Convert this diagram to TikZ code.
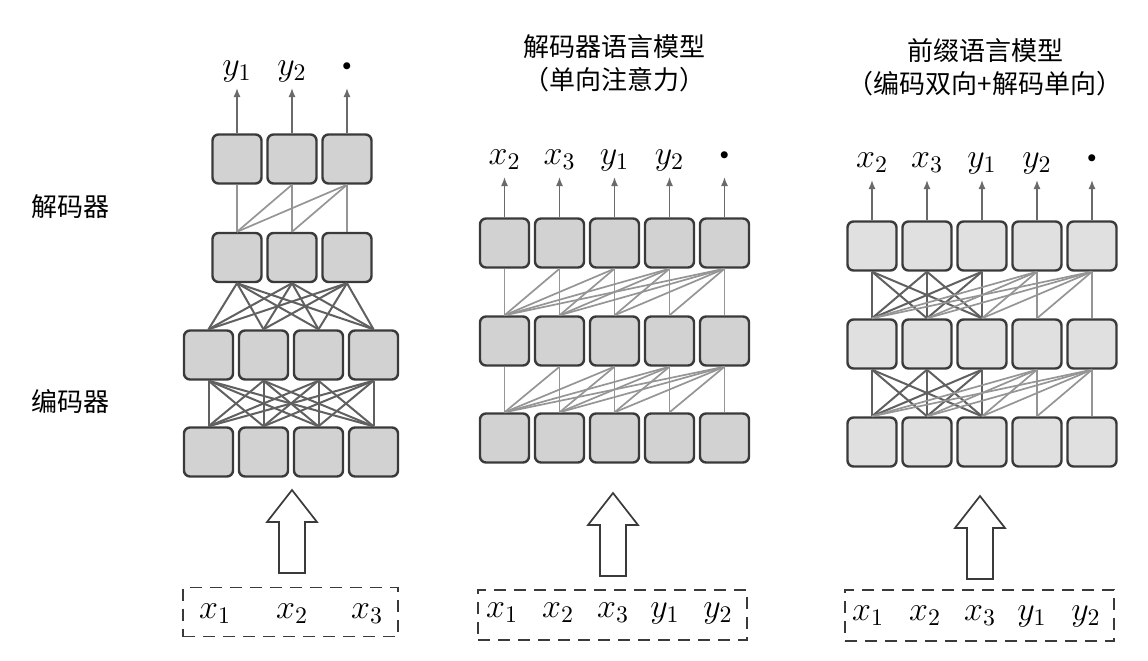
\documentclass[tikz,border=0pt]{standalone}
\usepackage{fix-cm}
\usepackage{fontspec}
\newfontfamily\cjk{Noto Sans CJK SC}
\usetikzlibrary{arrows.meta}
\definecolor{cellline}{HTML}{3A3A3A}
\definecolor{cellfill}{HTML}{D2D2D2}
\definecolor{cellfillb}{HTML}{E0E0E0}
\definecolor{linkdark}{HTML}{606060}
\definecolor{linklight}{HTML}{959595}
\definecolor{arrowgray}{HTML}{6A6A6A}
\newcommand{\outdot}{\vcenter{\hbox{$\scriptscriptstyle\bullet$}}}

\begin{document}
\begin{tikzpicture}[x=0.5pt,y=-0.5pt,
    cell/.style={draw=cellline,line width=1.2pt,rounded corners=3pt,fill=cellfill,
      minimum width=24.5pt,minimum height=24.5pt,inner sep=0pt},
    cellb/.style={cell,fill=cellfillb},
    dense/.style={draw=linkdark,line width=1pt},
    causal/.style={draw=linklight,line width=0.85pt},
    outarrow/.style={draw=arrowgray,line width=0.7pt,-{Latex[length=4.5pt,width=3.5pt]}},
    outlbl/.style={anchor=south,inner sep=0pt,text height=9pt,text depth=6pt,font=\fontsize{17}{19}\selectfont},
    inlbl/.style={anchor=base,inner sep=0pt,font=\fontsize{17}{19}\selectfont},
    inbox/.style={draw=cellline,line width=0.75pt,dash pattern=on 6pt off 4pt,minimum height=24.5pt},
    hollow/.style={draw=cellline,line width=0.85pt,fill=white},
    title/.style={align=center,font=\cjk\fontsize{13}{16.5}\selectfont},
    side/.style={font=\cjk\fontsize{13}{16}\selectfont}]
  \useasboundingbox (0,0) rectangle (1148,660);

  % left: encoder-decoder
  \foreach \i in {1,...,4} {
    \node[cell] (enc1-\i) at ({208.5+55*(\i-1)},452) {};
    \node[cell] (enc2-\i) at ({208.5+55*(\i-1)},355) {};
  }
  \foreach \j in {1,2,3} {
    \node[cell] (dec1-\j) at ({237+55*(\j-1)},257.5) {};
    \node[cell] (dec2-\j) at ({237+55*(\j-1)},159) {};
  }
  \foreach \i in {1,...,4} \foreach \j in {1,...,4}
    \draw[dense] (enc1-\i.north) -- (enc2-\j.south);
  \foreach \i in {1,...,4} \foreach \j in {1,2,3}
    \draw[dense] (enc2-\i.north) -- (dec1-\j.south);
  \foreach \i in {1,2,3} \foreach \j in {\i,...,3}
    \draw[causal] (dec1-\i.north) -- (dec2-\j.south);
  \foreach \j/\t in {1/y_1,2/y_2,3/\outdot} {
    \node[outlbl] (lout-\j) at ({237+55*(\j-1)},88) {$\t$};
    \draw[outarrow] (dec2-\j) -- (lout-\j);
  }
  \node[side] (sideD) at (71,207) {解码器};
  \node[side] (sideE) at (71,402) {编码器};

  % middle: decoder-only LM
  \foreach \r/\y in {0/438,1/341,2/243} \foreach \i in {1,...,5}
    \node[cell] (lm\r-\i) at ({504.5+55*(\i-1)},\y) {};
  \foreach \r/\s in {0/1,1/2} \foreach \i in {1,...,5} \foreach \j in {\i,...,5}
    \draw[causal] (lm\r-\i.north) -- (lm\s-\j.south);
  \foreach \j/\t in {1/x_2,2/x_3,3/y_1,4/y_2,5/\outdot} {
    \node[outlbl] (mout-\j) at ({504.5+55*(\j-1)},177) {$\t$};
    \draw[outarrow] (lm2-\j) -- (mout-\j);
  }
  \node[title] (titleM) at (614,63.5) {解码器语言模型\\（单向注意力）};

  % right: prefix LM
  \foreach \r/\y in {0/442,1/344,2/246} \foreach \i in {1,...,5}
    \node[cellb] (pm\r-\i) at ({872+55*(\i-1)},\y) {};
  \foreach \r/\s in {0/1,1/2} {
    \foreach \i in {1,2,3} \foreach \j in {1,2,3}
      \draw[dense] (pm\r-\i.north) -- (pm\s-\j.south);
    \foreach \j in {4,5} \foreach \i in {1,...,\j}
      \draw[causal] (pm\r-\i.north) -- (pm\s-\j.south);
  }
  \foreach \j/\t in {1/x_2,2/x_3,3/y_1,4/y_2,5/\outdot} {
    \node[outlbl] (rout-\j) at ({872+55*(\j-1)},180) {$\t$};
    \draw[outarrow] (pm2-\j) -- (rout-\j);
  }
  \node[title] (titleR) at (985,67.5) {前缀语言模型\\（编码双向+解码单向）};

  % inputs
  \foreach \ax/\ay in {292/490,613/493,980/496}
    \draw[hollow] (\ax,\ay) -- ++(25,32) -- ++(-12,0) -- ++(0,51) -- ++(-26,0)
      -- ++(0,-51) -- ++(-12,0) -- cycle;
  \node[inbox,minimum width=107.5pt] (inL) at (290.5,612) {};
  \node[inbox,minimum width=134.5pt,minimum height=25pt] (inM) at (612.5,615) {};
  \node[inbox,minimum width=134.5pt,minimum height=25.5pt] (inR) at (979.5,615.5) {};
  \foreach \x/\t in {215/x_1,292/x_2,367/x_3}
    \node[inlbl] at (\x,618) {$\t$};
  \foreach \x/\t in {502/x_1,558/x_2,613/x_3,665/y_1,718/y_2}
    \node[inlbl] at (\x,617) {$\t$};
  \foreach \x/\t in {868/x_1,925/x_2,980/x_3,1032/y_1,1086/y_2}
    \node[inlbl] at (\x,620) {$\t$};
\end{tikzpicture}
\end{document}
